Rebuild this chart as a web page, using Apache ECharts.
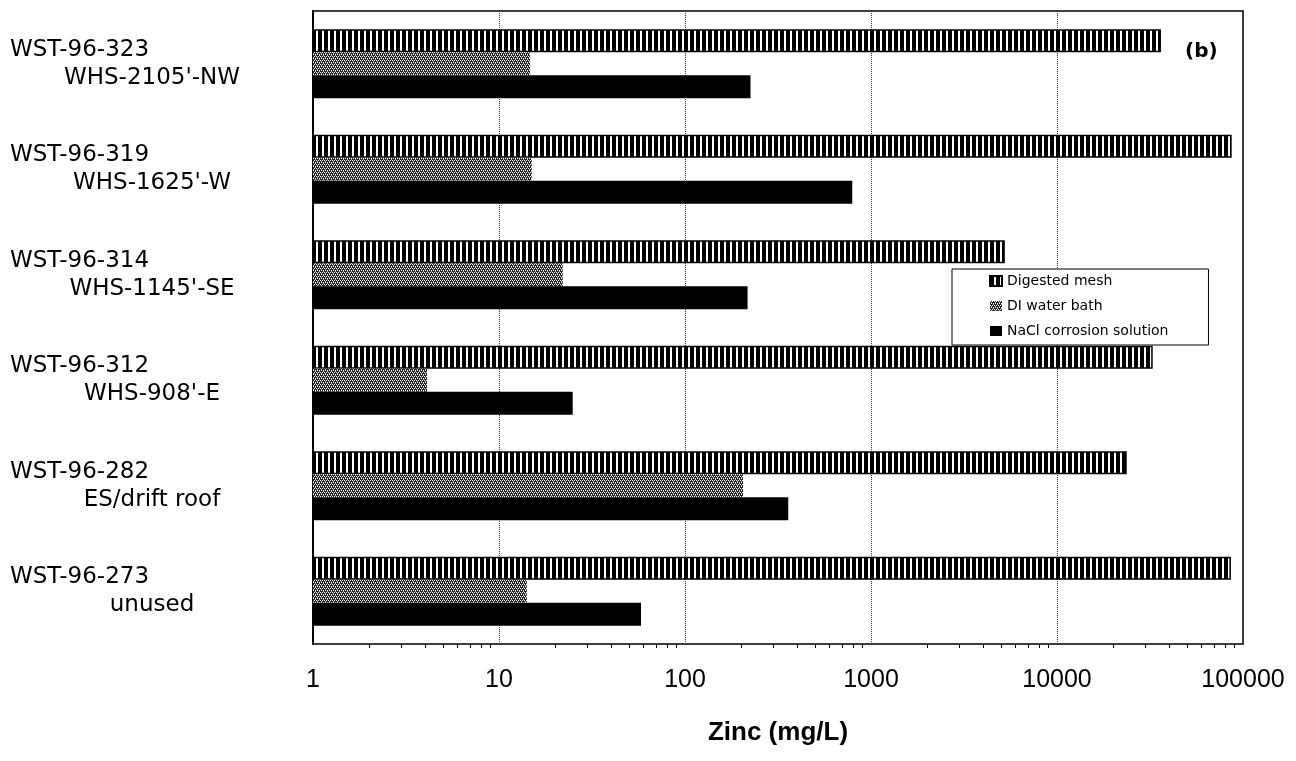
<!DOCTYPE html>
<html>
<head>
<meta charset="utf-8">
<script src="https://cdn.jsdelivr.net/npm/echarts@6.0.0/dist/echarts.min.js"></script>
<style>
html, body { margin: 0; padding: 0; background: #fff; }
#chart { width: 1296px; height: 761px; }
</style>
</head>
<body>
<div id="chart"></div>
<script>
// samples, top to bottom
var sampleIds = ['WST-96-323', 'WST-96-319', 'WST-96-314', 'WST-96-312', 'WST-96-282', 'WST-96-273'];
var locations = ["WHS-2105'-NW", "WHS-1625'-W", "WHS-1145'-SE", "WHS-908'-E", 'ES/drift roof', 'unused'];

// zinc, mg/L
var digestedMesh = [36200, 86900, 5240, 32700, 23700, 86100];
var diWaterBath = [14.7, 15, 22, 4.1, 205, 14.1];
var naclSolution = [225, 793, 217, 24.9, 359, 58];

var xTicks = [1, 10, 100, 1000, 10000, 100000];

function stripePattern() {
    var c = document.createElement('canvas');
    c.width = 6; c.height = 6;
    var ctx = c.getContext('2d');
    ctx.fillStyle = '#000';
    ctx.fillRect(0, 0, 6, 6);
    ctx.fillStyle = '#fff';
    ctx.fillRect(4, 0, 2, 6);
    return c;
}

function dotPattern() {
    // stippled grey, white specks on a dark ground
    var c = document.createElement('canvas');
    c.width = 4; c.height = 4;
    var ctx = c.getContext('2d');
    ctx.fillStyle = '#222';
    ctx.fillRect(0, 0, 4, 4);
    ctx.fillStyle = '#fff';
    ctx.fillRect(0, 0, 1, 1);
    ctx.fillRect(2, 0, 1, 1);
    ctx.fillRect(1, 2, 1, 1);
    ctx.fillRect(3, 2, 1, 1);
    ctx.fillStyle = '#bbb';
    ctx.fillRect(1, 1, 1, 1);
    ctx.fillRect(3, 3, 1, 1);
    return c;
}

var myChart = echarts.init(document.getElementById('chart'), null, {renderer: 'canvas'});

var option = {
    animation: false,
    backgroundColor: '#fff',
    title: {
        text: '(b)',
        left: 1180,
        top: 37,
        textStyle: {fontFamily: 'DejaVu Sans', fontWeight: 'bold', fontSize: 20, color: '#000'}
    },
    legend: {
        orient: 'vertical',
        left: 952,
        top: 269,
        padding: [5, 40, 7, 37],
        itemWidth: 12,
        itemHeight: 10,
        itemGap: 11,
        backgroundColor: '#fff',
        borderColor: '#000',
        borderWidth: 1,
        borderRadius: 0,
        icon: 'rect',
        textStyle: {fontFamily: 'DejaVu Sans', fontSize: 14, color: '#000'},
        data: ['Digested mesh', 'DI water bath', 'NaCl corrosion solution']
    },
    grid: {
        left: 313,
        right: 53,
        top: 11,
        bottom: 117,
        show: true,
        borderColor: '#000',
        borderWidth: 1.5
    },
    xAxis: {
        type: 'log',
        logBase: 10,
        min: xTicks[0],
        max: xTicks[xTicks.length - 1],
        axisLine: {lineStyle: {color: '#000', width: 2}},
        axisTick: {length: 8, lineStyle: {color: '#000', width: 1.5}},
        minorTick: {show: true, splitNumber: 9, length: 4, lineStyle: {color: '#000', width: 1}},
        splitLine: {show: true, lineStyle: {type: 'dotted', color: '#333', width: 1}},
        axisLabel: {
            fontFamily: 'Liberation Sans', fontSize: 25, color: '#000', margin: 24,
            formatter: function(v) { return String(Math.round(v)); }
        },
        name: 'Zinc (mg/L)',
        nameLocation: 'middle',
        nameGap: 76,
        nameTextStyle: {fontFamily: 'Liberation Sans', fontWeight: 'bold', fontSize: 26, color: '#000'}
    },
    yAxis: {
        type: 'category',
        inverse: true,
        data: sampleIds,
        axisLine: {lineStyle: {color: '#000', width: 2}},
        axisTick: {length: 7, lineStyle: {color: '#000', width: 1.5}},
        axisLabel: {
            margin: 19,
            color: '#000',
            formatter: function(value, index) {
                return '{a|' + value + '}\n{b|' + locations[index] + '}';
            },
            rich: {
                a: {width: 284, align: 'left', fontFamily: 'DejaVu Sans', fontSize: 23, lineHeight: 28, color: '#000'},
                b: {width: 284, align: 'center', fontFamily: 'DejaVu Sans', fontSize: 23, lineHeight: 28, color: '#000'}
            }
        }
    },
    series: [
        {
            name: 'Digested mesh',
            type: 'bar',
            barWidth: 23,
            barGap: '0%',
            data: digestedMesh,
            itemStyle: {color: {image: stripePattern(), repeat: 'repeat'}, borderColor: '#000', borderWidth: 1.5}
        },
        {
            name: 'DI water bath',
            type: 'bar',
            barWidth: 23,
            barGap: '0%',
            data: diWaterBath,
            itemStyle: {color: {image: dotPattern(), repeat: 'repeat'}}
        },
        {
            name: 'NaCl corrosion solution',
            type: 'bar',
            barWidth: 23,
            barGap: '0%',
            data: naclSolution,
            itemStyle: {color: '#000'}
        }
    ]
};

myChart.setOption(option);
</script>
</body>
</html>
